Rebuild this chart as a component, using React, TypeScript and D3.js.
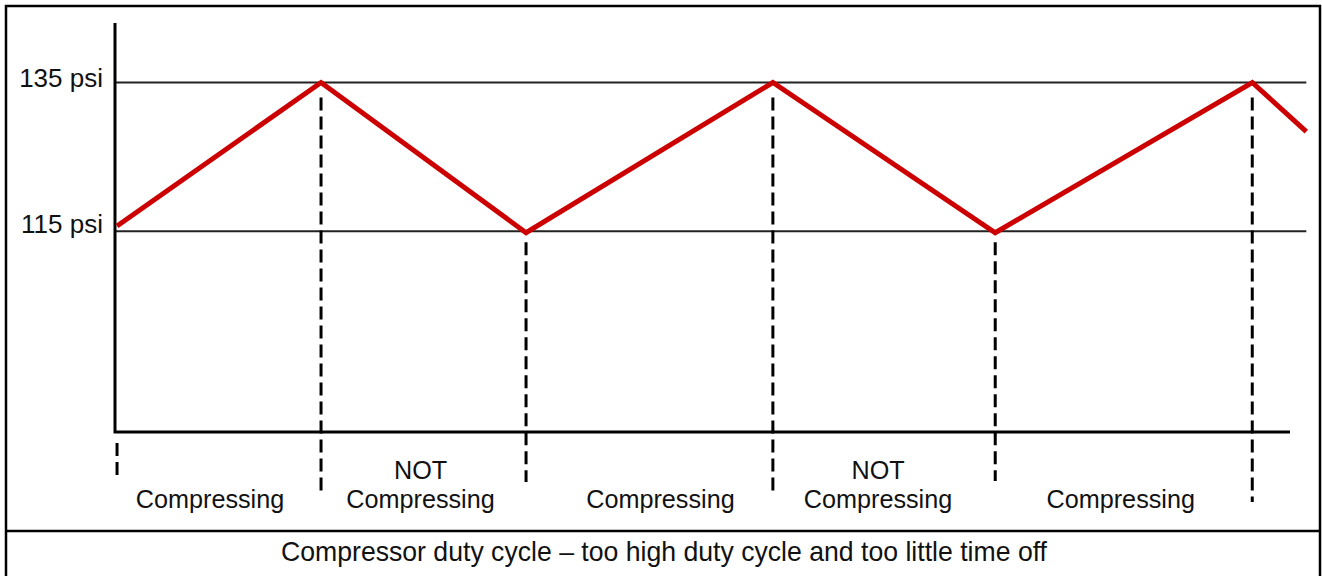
// App.tsx
import React, { useEffect, useRef } from "react";
import * as d3 from "d3";

// pressure trace (time in arbitrary units, psi)
const times = [0.1, 10.1, 20.15, 32.25, 43.15, 55.75, 58.4];
const pressures = [115.7, 135, 114.8, 135, 114.8, 135, 128.4];

// switch points where the compressor turns on / off
const switchTimes = [0.1, 10.1, 20.15, 32.25, 43.15, 55.75];
const switchPressures = [88, 135, 115, 135, 115, 135];

const refLevels = [135, 115];
const refLabels = ["135 psi", "115 psi"];

const phaseLabels = [
  ["Compressing"],
  ["NOT", "Compressing"],
  ["Compressing"],
  ["NOT", "Compressing"],
  ["Compressing"],
];

const caption = "Compressor duty cycle \u2013 too high duty cycle and too little time off";

const App = () => {
  const svgRef = useRef<SVGSVGElement | null>(null);

  useEffect(() => {
    document.body.style.margin = "0";
    const width = 1322;
    const height = 576;
    const font = "'Liberation Sans', Arial, sans-serif";

    const svg = d3.select(svgRef.current);
    svg.selectAll("*").remove();
    svg.attr("width", width).attr("height", height);

    const x = d3.scaleLinear().domain([0, 57.6]).range([115, 1290]);
    const y = d3.scaleLinear().domain([88, 143]).range([432, 23]);
    const xEnd = x(58.4);

    // frame + caption row
    svg.append("rect")
      .attr("x", 6).attr("y", 6)
      .attr("width", 1314).attr("height", 600)
      .attr("fill", "white")
      .attr("stroke", "black")
      .attr("stroke-width", 2.5);
    svg.append("line")
      .attr("x1", 6).attr("x2", 1320)
      .attr("y1", 531).attr("y2", 531)
      .attr("stroke", "black")
      .attr("stroke-width", 2.5);
    // caption is a bit condensed in the original
    svg.append("text")
      .attr("x", 664).attr("y", 561)
      .attr("text-anchor", "middle")
      .attr("font-family", font)
      .attr("font-size", 28.5)
      .attr("textLength", 766)
      .attr("lengthAdjust", "spacingAndGlyphs")
      .attr("fill", "#111")
      .text(caption);

    // reference pressure lines
    svg.selectAll("line.ref")
      .data(refLevels)
      .join("line")
      .attr("class", "ref")
      .attr("x1", x(0)).attr("x2", xEnd)
      .attr("y1", (d) => y(d)).attr("y2", (d) => y(d))
      .attr("stroke", "#222")
      .attr("stroke-width", 2);

    svg.selectAll("text.ref")
      .data(refLevels)
      .join("text")
      .attr("class", "ref")
      .attr("x", 103)
      .attr("y", (d, i) => y(d) + (i === 0 ? 5 : 2))
      .attr("text-anchor", "end")
      .attr("font-family", font)
      .attr("font-size", 26)
      .attr("fill", "#111")
      .text((d, i) => refLabels[i]);

    // axes (plain lines, no ticks)
    svg.append("path")
      .attr("d", `M${x(0)},${y(143)}V${y(88)}H${x(57.6)}`)
      .attr("fill", "none")
      .attr("stroke", "black")
      .attr("stroke-width", 3);

    // dashed switch markers
    const dashEnd = [480, 492, 482, 492, 481, 502];
    svg.selectAll("line.sw")
      .data(switchTimes)
      .join("line")
      .attr("class", "sw")
      .attr("x1", (d) => x(d)).attr("x2", (d) => x(d))
      .attr("y1", (d, i) => y(switchPressures[i]) + (switchPressures[i] === 135 ? 15 : 11))
      .attr("y2", (d, i) => dashEnd[i])
      .attr("stroke", "black")
      .attr("stroke-width", 3)
      .attr("stroke-dasharray", "13,6");

    // phase labels, roughly centred between switch points
    const nudge = [-9, -3, 11, -6, -3];
    const phaseG = svg.append("g")
      .attr("font-family", font)
      .attr("font-size", 25.2)
      .attr("fill", "#111")
      .attr("text-anchor", "middle");
    phaseLabels.forEach((lines, i) => {
      const cx = (x(switchTimes[i]) + x(switchTimes[i + 1])) / 2 + nudge[i];
      const t = phaseG.append("text").attr("x", cx).attr("y", 508);
      lines.forEach((ln, j) => {
        t.append("tspan")
          .attr("x", cx)
          .attr("y", 508 - (lines.length - 1 - j) * 29)
          .text(ln);
      });
    });

    // red pressure trace
    const line = d3.line<number>()
      .x((d, i) => x(times[i]))
      .y((d) => y(d));
    svg.append("path")
      .datum(pressures)
      .attr("d", line)
      .attr("fill", "none")
      .attr("stroke", "#cc0000")
      .attr("stroke-width", 5)
      .attr("stroke-linejoin", "miter");
  }, []);

  return <svg ref={svgRef} style={{ display: "block" }}></svg>;
};

export default App;
